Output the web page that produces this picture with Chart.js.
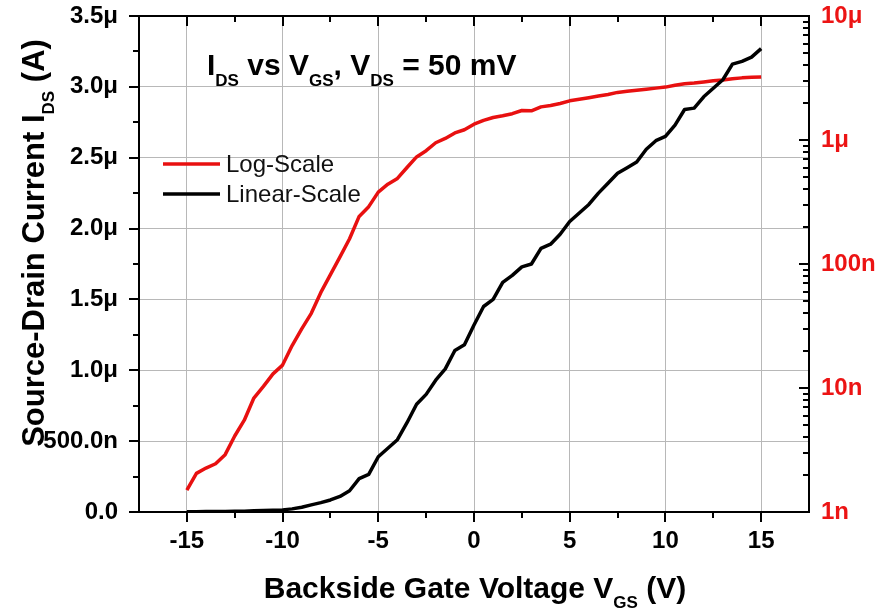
<!DOCTYPE html>
<html>
<head>
<meta charset="utf-8">
<script src="https://cdn.jsdelivr.net/npm/chart.js@4"></script>
<style>
html,body{margin:0;padding:0;background:#fff;}
#wrap{width:878px;height:615px;position:relative;}
</style>
</head>
<body>
<div id="wrap"><canvas id="c" width="878" height="615"></canvas></div>
<script>
// ---- data ----
const vgs = [-15,-14.5,-14,-13.5,-13,-12.5,-12,-11.5,-11,-10.5,-10,-9.5,-9,-8.5,-8,-7.5,-7,-6.5,-6,-5.5,-5,-4.5,-4,-3.5,-3,-2.5,-2,-1.5,-1,-0.5,0,0.5,1,1.5,2,2.5,3,3.5,4,4.5,5,5.5,6,6.5,7,7.5,8,8.5,9,9.5,10,10.5,11,11.5,12,12.5,13,13.5,14,14.5,15];
// Linear-scale current in microamps (left axis)
const linearMicroA = [0.002,0.002,0.003,0.003,0.004,0.005,0.006,0.008,0.010,0.012,0.015,0.022,0.034,0.050,0.066,0.085,0.110,0.150,0.235,0.265,0.390,0.450,0.510,0.630,0.760,0.830,0.930,1.010,1.140,1.180,1.320,1.450,1.500,1.620,1.670,1.730,1.750,1.860,1.890,1.960,2.050,2.110,2.170,2.250,2.320,2.390,2.430,2.470,2.560,2.620,2.650,2.730,2.840,2.850,2.930,2.990,3.050,3.160,3.180,3.210,3.270];
// Log-scale current in amps (right axis)
const logAmps = [1.5e-9,2.05e-9,2.26e-9,2.45e-9,2.9e-9,4.1e-9,5.5e-9,8.3e-9,1.03e-8,1.3e-8,1.53e-8,2.2e-8,3.0e-8,4.0e-8,5.9e-8,8.2e-8,1.14e-7,1.6e-7,2.42e-7,2.9e-7,3.8e-7,4.4e-7,4.9e-7,6.0e-7,7.3e-7,8.2e-7,9.5e-7,1.03e-6,1.14e-6,1.21e-6,1.34e-6,1.44e-6,1.52e-6,1.57e-6,1.63e-6,1.73e-6,1.72e-6,1.85e-6,1.9e-6,1.97e-6,2.07e-6,2.13e-6,2.19e-6,2.26e-6,2.33e-6,2.42e-6,2.47e-6,2.52e-6,2.57e-6,2.62e-6,2.67e-6,2.76e-6,2.84e-6,2.88e-6,2.94e-6,3.0e-6,3.05e-6,3.12e-6,3.17e-6,3.2e-6,3.22e-6];

// ---- ticks ----
const xTicks = [-15,-10,-5,0,5,10,15];
const xMinorTicks = [-12.5,-7.5,-2.5,2.5,7.5,12.5];
const yTicks = [0,0.5,1,1.5,2,2.5,3,3.5];
const yTickLabels = ['0.0','500.0n','1.0μ','1.5μ','2.0μ','2.5μ','3.0μ','3.5μ'];
const yMinorTicks = [0.25,0.75,1.25,1.75,2.25,2.75,3.25];
const y2Ticks = [1e-9,1e-8,1e-7,1e-6,1e-5];
const y2TickLabels = ['1n','10n','100n','1μ','10μ'];
const y2MinorMultipliers = [2,3,4,5,6,7,8,9];
const seriesNames = ['Log-Scale','Linear-Scale'];

const RED = 'rgb(232,16,16)';
const LABEL_RED = 'rgb(236,20,20)';
const FONT = '"Liberation Sans", Arial, sans-serif';

function drawRich(ctx, parts, x, y, align) {
  let w = 0;
  parts.forEach(p => { ctx.font = p[1]; w += ctx.measureText(p[0]).width; });
  let cx = align === 'center' ? x - w / 2 : x;
  parts.forEach(p => {
    ctx.font = p[1];
    ctx.fillText(p[0], cx, y + (p[2] || 0));
    cx += ctx.measureText(p[0]).width;
  });
}

const decor = {
  id: 'decor',
  afterDatasetsDraw(chart) {
    const {ctx, chartArea: a, scales: {x, y, y2}} = chart;
    ctx.save();
    ctx.strokeStyle = '#000';
    ctx.lineWidth = 2;
    ctx.lineCap = 'butt';
    ctx.beginPath();
    const majL = 10, minL = 6;
    xTicks.forEach(v => {
      const p = Math.round(x.getPixelForValue(v));
      ctx.moveTo(p, a.bottom); ctx.lineTo(p, a.bottom + majL);
      ctx.moveTo(p, a.top); ctx.lineTo(p, a.top + majL);
    });
    xMinorTicks.forEach(v => {
      const p = Math.round(x.getPixelForValue(v));
      ctx.moveTo(p, a.bottom); ctx.lineTo(p, a.bottom + minL);
      ctx.moveTo(p, a.top); ctx.lineTo(p, a.top + minL);
    });
    yTicks.forEach(v => {
      const p = Math.round(y.getPixelForValue(v));
      ctx.moveTo(a.left, p); ctx.lineTo(a.left - majL, p);
    });
    yMinorTicks.forEach(v => {
      const p = Math.round(y.getPixelForValue(v));
      ctx.moveTo(a.left, p); ctx.lineTo(a.left - minL, p);
    });
    y2Ticks.forEach((v, i) => {
      const p = Math.round(y2.getPixelForValue(v));
      ctx.moveTo(a.right, p); ctx.lineTo(a.right - majL, p);
      if (i < y2Ticks.length - 1) {
        y2MinorMultipliers.forEach(m => {
          const q = Math.round(y2.getPixelForValue(v * m));
          ctx.moveTo(a.right, q); ctx.lineTo(a.right - minL, q);
        });
      }
    });
    ctx.stroke();
    ctx.strokeRect(a.left, a.top, a.right - a.left, a.bottom - a.top);
    ctx.restore();
  },
  afterDraw(chart) {
    const {ctx, chartArea: a} = chart;
    ctx.save();
    ctx.fillStyle = '#000';
    ctx.textBaseline = 'alphabetic';
    ctx.textAlign = 'left';
    const B30 = 'bold 30px ' + FONT, B17 = 'bold 17px ' + FONT;
    // in-plot title
    drawRich(ctx, [['I', B30], ['DS', B17, 11], [' vs V', B30], ['GS', B17, 11], [', V', B30], ['DS', B17, 11], [' = 50 mV', B30]], 207, 75, 'left');
    // x axis title
    drawRich(ctx, [['Backside Gate Voltage V', B30], ['GS', B17, 10], [' (V)', B30]], (a.left + a.right) / 2 + 1, 598, 'center');
    // y axis title (rotated)
    const B31 = 'bold 31px ' + FONT;
    ctx.save();
    ctx.translate(44, 243);
    ctx.rotate(-Math.PI / 2);
    drawRich(ctx, [['Source-Drain Current I', B31], ['DS', B17, 10], [' (A)', B31]], 0, 0, 'center');
    ctx.restore();
    // legend
    const cols = [RED, '#000'];
    const ly = [164, 194];
    ctx.lineWidth = 3.5;
    ctx.font = '24px ' + FONT;
    ctx.textBaseline = 'middle';
    seriesNames.forEach((n, i) => {
      ctx.strokeStyle = cols[i];
      ctx.beginPath();
      ctx.moveTo(163, ly[i]); ctx.lineTo(220, ly[i]);
      ctx.stroke();
      ctx.fillStyle = '#111';
      ctx.fillText(n, 226, ly[i] + 1);
    });
    ctx.restore();
  }
};

const noPadV = s => { s.paddingTop = 0; s.paddingBottom = 0; };

const ctx = document.getElementById('c').getContext('2d');
new Chart(ctx, {
  type: 'line',
  data: {
    datasets: [
      {
        label: seriesNames[1],
        data: vgs.map((v, i) => ({x: v, y: linearMicroA[i]})),
        borderColor: '#000',
        borderWidth: 3.5,
        borderJoinStyle: 'round',
        pointRadius: 0,
        tension: 0,
        yAxisID: 'y',
        order: 0
      },
      {
        label: seriesNames[0],
        data: vgs.map((v, i) => ({x: v, y: logAmps[i]})),
        borderColor: RED,
        borderWidth: 3.5,
        borderJoinStyle: 'round',
        pointRadius: 0,
        tension: 0,
        yAxisID: 'y2',
        order: 1
      }
    ]
  },
  options: {
    responsive: false,
    animation: false,
    devicePixelRatio: 1,
    layout: {padding: {top: 16, left: 0, right: 0, bottom: 0}},
    plugins: {legend: {display: false}, tooltip: {enabled: false}, title: {display: false}},
    scales: {
      x: {
        type: 'linear',
        min: -17.5, max: 17.5,
        afterBuildTicks: s => { s.ticks = xTicks.map(v => ({value: v})); },
        afterFit: s => { s.height = 103; s.paddingLeft = 0; s.paddingRight = 0; },
        grid: {color: '#b8b8b8', lineWidth: 1, drawTicks: false},
        border: {display: false},
        ticks: {
          autoSkip: false, maxRotation: 0, padding: 15,
          color: '#000', font: {family: FONT, size: 24, weight: 'bold'},
          callback: v => String(v)
        }
      },
      y: {
        type: 'linear',
        position: 'left',
        min: 0, max: 3.5,
        afterBuildTicks: s => { s.ticks = yTicks.map(v => ({value: v})); },
        afterFit: s => { s.width = 139; noPadV(s); },
        grid: {color: '#b8b8b8', lineWidth: 1, drawTicks: false},
        border: {display: false},
        ticks: {
          padding: 21,
          color: '#000', font: {family: FONT, size: 24, weight: 'bold'},
          callback: (v, i) => yTickLabels[i]
        }
      },
      y2: {
        type: 'logarithmic',
        position: 'right',
        min: 1e-9, max: 1e-5,
        afterBuildTicks: s => { s.ticks = y2Ticks.map(v => ({value: v})); },
        afterFit: s => { s.width = 69; noPadV(s); },
        grid: {display: false, drawOnChartArea: false, drawTicks: false},
        border: {display: false},
        ticks: {
          padding: 12,
          color: LABEL_RED, font: {family: FONT, size: 24, weight: 'bold'},
          callback: (v, i) => y2TickLabels[i]
        }
      }
    }
  },
  plugins: [decor]
});
</script>
</body>
</html>
